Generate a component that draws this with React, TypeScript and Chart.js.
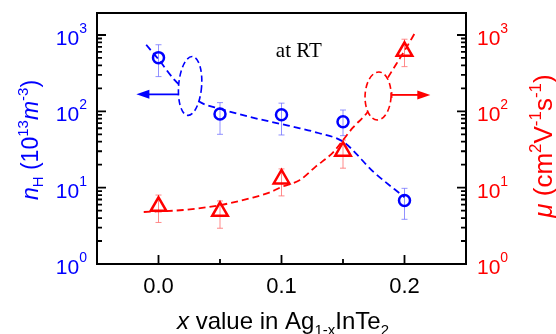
import React, { useEffect, useRef } from "react";
import { Chart, registerables } from "chart.js";
Chart.register(...registerables);

// ---------- data ----------
const xValues = [0, 0.05, 0.1, 0.15, 0.2];
const nH = [505, 92, 90, 73, 6.8];
const nHUpper = [745, 130, 128, 104, 9.8];
const nHLower = [285, 50, 49, 48, 3.85];
const mu = [5.7, 4.9, 13, 30, 610];
const muUpper = [8.0, 6.7, 17.6, 42, 880];
const muLower = [3.5, 2.94, 7.8, 18, 385];

const nHFitX = [-0.01, 0.0, 0.013, 0.025, 0.035, 0.05, 0.075, 0.1, 0.115, 0.13, 0.15, 0.175, 0.2];
const nHFitY = [745, 480, 258, 170, 129, 108, 84, 68, 60, 52, 40, 16, 7.5];
const muFitX = [-0.012, 0.02, 0.05, 0.075, 0.09, 0.1, 0.115, 0.128, 0.142, 0.15, 0.158, 0.17, 0.187, 0.2, 0.209];
const muFitY = [4.8, 5.1, 5.9, 7.3, 8.6, 10.2, 12.6, 19, 29, 42, 61, 98, 285, 620, 1100];

const xMajorTicks = [0, 0.1, 0.2];
const xTickLabels = ["0.0", "0.1", "0.2"];
const xMinorTicks = [0.05, 0.15];
const yDecadeExps = [0, 1, 2, 3];

// annotations (data units)
const blueEllipse = { x: 0.0257, y: 215 };
const redEllipse = { x: 0.1785, y: 159 };
const blueArrow = { x0: 0.0163, x1: -0.018, y: 167 };
const redArrow = { x0: 0.1897, x1: 0.221, y: 164 };

const BLUE = "#0000ff";
const RED = "#ff0000";
const SANS = "'Liberation Sans', Arial, sans-serif";
const SERIF = "'Liberation Serif', 'Times New Roman', serif";

type Seg = { t: string; size: number; italic?: boolean; dy?: number };

function segFont(s: Seg) {
  return `${s.italic ? "italic " : ""}${s.size}px ${SANS}`;
}
function richWidth(ctx: CanvasRenderingContext2D, segs: Seg[]) {
  let w = 0;
  for (const s of segs) {
    ctx.font = segFont(s);
    w += ctx.measureText(s.t).width;
  }
  return w;
}
function drawRich(ctx: CanvasRenderingContext2D, segs: Seg[], x: number, y: number, align: "left" | "center" | "right") {
  const w = richWidth(ctx, segs);
  let cx = align === "left" ? x : align === "center" ? x - w / 2 : x - w;
  ctx.textAlign = "left";
  ctx.textBaseline = "alphabetic";
  for (const s of segs) {
    ctx.font = segFont(s);
    ctx.fillText(s.t, cx, y + (s.dy || 0));
    cx += ctx.measureText(s.t).width;
  }
}

const decor = {
  id: "decor",
  beforeDatasetsDraw(chart: any) {
    const ctx: CanvasRenderingContext2D = chart.ctx;
    const xs = chart.scales.x;
    const ys = chart.scales.y;
    const ys2 = chart.scales.y2;
    const bar = (px: number, t: number, b: number, color: string) => {
      ctx.strokeStyle = color;
      ctx.lineWidth = 1;
      ctx.beginPath();
      ctx.moveTo(px, t);
      ctx.lineTo(px, b);
      ctx.moveTo(px - 3, t);
      ctx.lineTo(px + 3, t);
      ctx.moveTo(px - 3, b);
      ctx.lineTo(px + 3, b);
      ctx.stroke();
    };
    ctx.save();
    xValues.forEach((xv, i) => {
      const px = xs.getPixelForValue(xv);
      bar(px, ys.getPixelForValue(nHUpper[i]), ys.getPixelForValue(nHLower[i]), "rgba(110,110,255,0.75)");
      bar(px, ys2.getPixelForValue(muUpper[i]), ys2.getPixelForValue(muLower[i]), "rgba(255,110,110,0.8)");
    });
    ctx.restore();
  },
  afterDatasetsDraw(chart: any) {
    const ctx: CanvasRenderingContext2D = chart.ctx;
    const xs = chart.scales.x;
    const ys = chart.scales.y;
    const ys2 = chart.scales.y2;
    const ca = chart.chartArea;
    ctx.save();

    // ellipses (white filled, dashed outline)
    const ell = (cx: number, cy: number, rx: number, ry: number, rot: number, color: string) => {
      ctx.beginPath();
      ctx.ellipse(cx, cy, rx, ry, rot, 0, Math.PI * 2);
      ctx.fillStyle = "#fff";
      ctx.fill();
      ctx.setLineDash([6, 3.5]);
      ctx.lineWidth = 1.6;
      ctx.strokeStyle = color;
      ctx.stroke();
      ctx.setLineDash([]);
    };
    ell(xs.getPixelForValue(blueEllipse.x), ys.getPixelForValue(blueEllipse.y), 11.5, 29.5, 0.08, BLUE);
    ell(xs.getPixelForValue(redEllipse.x), ys2.getPixelForValue(redEllipse.y), 13, 24, 0.04, RED);

    // arrows
    const arrow = (x0: number, x1: number, y: number, color: string, startBar: boolean) => {
      const dir = Math.sign(x1 - x0);
      ctx.strokeStyle = color;
      ctx.fillStyle = color;
      ctx.lineWidth = 1.8;
      ctx.beginPath();
      ctx.moveTo(x0, y);
      ctx.lineTo(x1 - dir * 10, y);
      ctx.stroke();
      if (startBar) {
        ctx.lineWidth = 1.2;
        ctx.beginPath();
        ctx.moveTo(x0, y - 3);
        ctx.lineTo(x0, y + 3);
        ctx.stroke();
      }
      ctx.beginPath();
      ctx.moveTo(x1, y);
      ctx.lineTo(x1 - dir * 13, y - 4.5);
      ctx.lineTo(x1 - dir * 13, y + 4.5);
      ctx.closePath();
      ctx.fill();
    };
    arrow(xs.getPixelForValue(blueArrow.x0), xs.getPixelForValue(blueArrow.x1), ys.getPixelForValue(blueArrow.y), BLUE, false);
    arrow(xs.getPixelForValue(redArrow.x0), xs.getPixelForValue(redArrow.x1), ys2.getPixelForValue(redArrow.y), RED, true);

    // frame
    ctx.strokeStyle = "#000";
    ctx.lineWidth = 2;
    ctx.strokeRect(ca.left, ca.top, ca.right - ca.left, ca.bottom - ca.top);

    // y ticks (inward, both sides)
    ctx.lineWidth = 1.8;
    ctx.beginPath();
    for (let k = 0; k <= 3; k++) {
      for (let m = 1; m <= 9; m++) {
        const v = m * Math.pow(10, k);
        if (v > ys.max) break;
        const py = ys.getPixelForValue(v);
        const len = m === 1 ? 9 : 5;
        ctx.moveTo(ca.left, py);
        ctx.lineTo(ca.left + len, py);
        ctx.moveTo(ca.right, py);
        ctx.lineTo(ca.right - len, py);
      }
    }
    // x ticks (inward)
    xMajorTicks.forEach((v) => {
      const px = xs.getPixelForValue(v);
      ctx.moveTo(px, ca.bottom);
      ctx.lineTo(px, ca.bottom - 9);
    });
    xMinorTicks.forEach((v) => {
      const px = xs.getPixelForValue(v);
      ctx.moveTo(px, ca.bottom);
      ctx.lineTo(px, ca.bottom - 5);
    });
    ctx.stroke();

    // y tick labels
    yDecadeExps.forEach((k) => {
      const py = ys.getPixelForValue(Math.pow(10, k));
      ctx.fillStyle = BLUE;
      drawRich(ctx, [{ t: "10", size: 21 }, { t: String(k), size: 14, dy: -12 }], ca.left - 10, py + 10, "right");
      const py2 = ys2.getPixelForValue(Math.pow(10, k));
      ctx.fillStyle = RED;
      drawRich(ctx, [{ t: "10", size: 21 }, { t: String(k), size: 14, dy: -12 }], ca.right + 11, py2 + 10, "left");
    });

    // x tick labels
    ctx.fillStyle = "#000";
    ctx.font = `22px ${SANS}`;
    ctx.textAlign = "center";
    ctx.textBaseline = "alphabetic";
    xMajorTicks.forEach((v, i) => {
      ctx.fillText(xTickLabels[i], xs.getPixelForValue(v), ca.bottom + 29);
    });

    // x title
    drawRich(
      ctx,
      [
        { t: "x", size: 24, italic: true },
        { t: " value in Ag", size: 24 },
        { t: "1-x", size: 15, dy: 6 },
        { t: "InTe", size: 24 },
        { t: "2", size: 15, dy: 6 },
      ],
      283,
      329,
      "center"
    );

    // left title
    ctx.save();
    ctx.translate(38, 140);
    ctx.rotate(-Math.PI / 2);
    ctx.fillStyle = BLUE;
    drawRich(
      ctx,
      [
        { t: "n", size: 23, italic: true },
        { t: "H", size: 15, dy: 5 },
        { t: " (10", size: 23 },
        { t: "13", size: 15, dy: -10 },
        { t: "m", size: 23, italic: true },
        { t: "-3", size: 15, dy: -10 },
        { t: ")", size: 23 },
      ],
      0,
      0,
      "center"
    );
    ctx.restore();

    // right title
    ctx.save();
    ctx.translate(552, 146);
    ctx.rotate(-Math.PI / 2);
    ctx.fillStyle = RED;
    drawRich(
      ctx,
      [
        { t: "\u03bc", size: 26, italic: true },
        { t: " (cm", size: 26 },
        { t: "2", size: 17, dy: -11 },
        { t: "V", size: 26 },
        { t: "-1", size: 17, dy: -11 },
        { t: "s", size: 26 },
        { t: "-1", size: 17, dy: -11 },
        { t: ")", size: 26 },
      ],
      0,
      0,
      "center"
    );
    ctx.restore();

    // at RT
    ctx.fillStyle = "#000";
    ctx.font = `21px ${SERIF}`;
    ctx.textAlign = "center";
    ctx.fillText("at RT", ca.left + (ca.right - ca.left) * 0.547, 57);

    ctx.restore();
  },
};

export default function App() {
  const ref = useRef<HTMLCanvasElement>(null);
  useEffect(() => {
    const canvas = ref.current!;
    const chart = new Chart(canvas, {
      type: "line",
      data: {
        datasets: [
          {
            label: "nH",
            data: xValues.map((x, i) => ({ x, y: nH[i] })),
            yAxisID: "y",
            showLine: false,
            pointStyle: "circle",
            pointRadius: 5.5,
            pointBorderWidth: 2.5,
            pointBorderColor: BLUE,
            pointBackgroundColor: "rgba(0,0,0,0)",
            borderColor: BLUE,
          },
          {
            label: "mu",
            data: xValues.map((x, i) => ({ x, y: mu[i] })),
            yAxisID: "y2",
            showLine: false,
            pointStyle: "triangle",
            pointRadius: 9,
            pointBorderWidth: 2.5,
            pointBorderColor: RED,
            pointBackgroundColor: "rgba(0,0,0,0)",
            borderColor: RED,
          },
          {
            label: "nH fit",
            data: nHFitX.map((x, i) => ({ x, y: nHFitY[i] })),
            yAxisID: "y",
            borderColor: BLUE,
            borderWidth: 1.8,
            borderDash: [7, 4],
            pointRadius: 0,
            cubicInterpolationMode: "monotone",
            fill: false,
          },
          {
            label: "mu fit",
            data: muFitX.map((x, i) => ({ x, y: muFitY[i] })),
            yAxisID: "y2",
            borderColor: RED,
            borderWidth: 1.8,
            borderDash: [7, 4],
            pointRadius: 0,
            cubicInterpolationMode: "monotone",
            fill: false,
          },
        ],
      },
      options: {
        responsive: false,
        animation: false,
        devicePixelRatio: 1,
        layout: { padding: { left: 97, right: 90, top: 13, bottom: 70 } },
        plugins: { legend: { display: false }, tooltip: { enabled: false } },
        scales: {
          x: { type: "linear", min: -0.05, max: 0.25, display: false },
          y: { type: "logarithmic", min: 1, max: 1941, display: false },
          y2: { type: "logarithmic", min: 1, max: 1941, display: false, position: "right" },
        },
      },
      plugins: [decor],
    } as any);
    return () => chart.destroy();
  }, []);
  return (
    <div style={{ position: "absolute", left: 0, top: 0, width: 556, height: 334, background: "#fff" }}>
      <canvas ref={ref} width={556} height={334} style={{ display: "block" }} />
    </div>
  );
}
